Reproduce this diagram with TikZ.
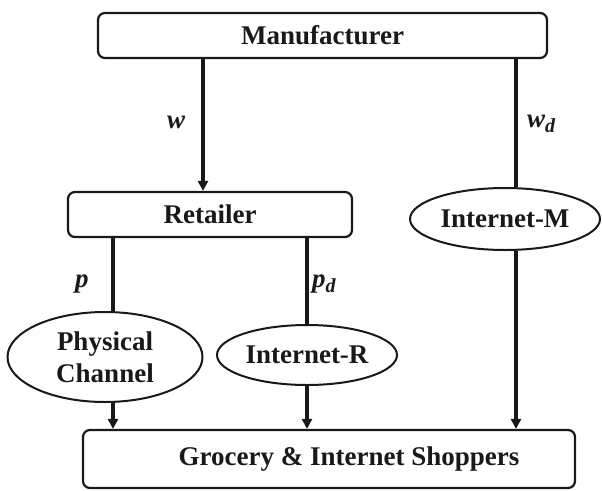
\documentclass[tikz,border=0pt]{standalone}
\usepackage{fontspec}
\setmainfont{Liberation Serif}[BoldFont={Liberation Serif Bold},ItalicFont={Liberation Serif Italic},BoldItalicFont={Liberation Serif Bold Italic}]
\usetikzlibrary{arrows.meta,shapes.geometric}
\begin{document}
\begin{tikzpicture}[x=1pt,y=-1pt,
  every node/.style={font=\rmfamily\fontsize{27}{32}\selectfont\bfseries, text=black!90},
  box/.style={draw=black!90, line width=2.2pt, rounded corners=7pt, inner sep=0pt},
  oval/.style={draw=black!90, line width=2pt, ellipse, inner sep=0pt, align=center},
  link/.style={draw=black!90, line width=3.2pt},
  arr/.style={link, -{Triangle[length=10pt,width=10pt]}},
  lab/.style={anchor=base west, inner sep=0pt, font=\rmfamily\fontsize{27}{32}\selectfont\bfseries\itshape}]
\useasboundingbox (0,0) rectangle (602,490);
% nodes
\node[box, minimum width=449pt, minimum height=45pt] (man) at (322.5,35.5) {Manufacturer};
\node[box, minimum width=284pt, minimum height=45pt] (ret) at (210,214.5) {Retailer};
\node[oval, minimum width=190pt, minimum height=62pt] (intm) at (505,219) {Internet-M};
\node[oval, minimum width=195pt, minimum height=90pt] (phys) at (105,357) {Physical\\Channel};
\node[oval, minimum width=180pt, minimum height=60pt] (intr) at (307,355) {Internet-R};
\node[box, minimum width=492pt, minimum height=58pt] (shop) at (329,459) {\hspace*{40pt}Grocery \& Internet Shoppers};
% line positions
\coordinate (cw) at (203,0);
\coordinate (cwd) at (516,0);
\coordinate (cp) at (113,0);
\coordinate (cpd) at (307,0);
% connectors
\draw[arr] (man.south -| cw) -- (ret.north -| cw);
\draw[link] (man.south -| cwd) -- (intm.north -| cwd);
\draw[arr] (intm.south -| cwd) -- (shop.north -| cwd);
\draw[link] (ret.south -| cp) -- (phys.north -| cp);
\draw[arr] (phys.south -| cp) -- (shop.north -| cp);
\draw[link] (ret.south -| cpd) -- (intr.north -| cpd);
\draw[arr] (intr.south -| cpd) -- (shop.north -| cpd);
% labels
\node[lab] (lw) at (167,128) {w};
\node[lab] (lwd) at (527,127) {w\raisebox{-5pt}{\fontsize{20}{20}\selectfont d}};
\node[lab] (lp) at (75,287.5) {p};
\node[lab] (lpd) at (312,287) {p\raisebox{-5pt}{\fontsize{20}{20}\selectfont d}};
\end{tikzpicture}
\end{document}
